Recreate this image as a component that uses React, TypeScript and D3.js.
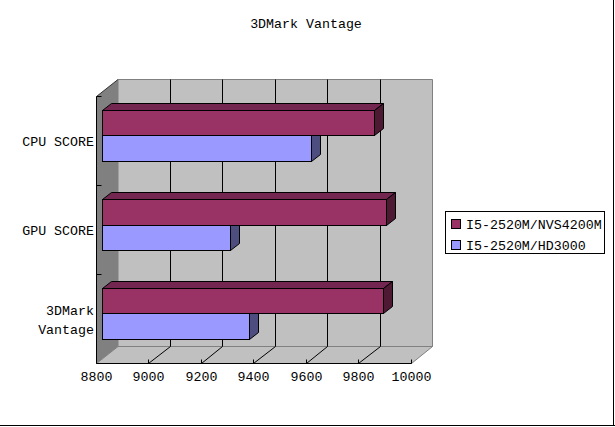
import React, { useEffect, useRef } from "react";
import * as d3 from "d3";

const categories = ["3DMark Vantage", "GPU SCORE", "CPU SCORE"];
const nvsValues = [9870, 9882, 9836];
const hdValues = [9360, 9288, 9596];
const xTicks = [8800, 9000, 9200, 9400, 9600, 9800, 10000];
const seriesNames = ["I5-2520M/NVS4200M", "I5-2520M/HD3000"];
const seriesColors = ["#993366", "#9999ff"];
const topColors = ["#732650", "#7373bf"];
const sideColors = ["#4d1933", "#4d4d80"];

const font = "'Liberation Mono', 'DejaVu Sans Mono', monospace";

// keep lines on whole pixels so they stay sharp
const snap = (v: number) => Math.ceil(v) - 0.5;

export default function App() {
	const svgRef = useRef<SVGSVGElement>(null);

	useEffect(() => {
		if (!svgRef.current) return;
		const svg = d3.select(svgRef.current);
		svg.selectAll("*").remove();

		const left = 96.5;
		const right = 411.5;
		const top = 96.5;
		const bottom = 363.5;
		// wall offset, and the offset of a bar in the depth of the box
		const wallX = 21.5;
		const wallY = -17;
		const barX = 6;
		const barY = -5;
		const depthX = 9;
		const depthY = -7;

		const x = d3.scaleLinear().domain([8800, 10000]).range([left, right]);
		const y = d3
			.scaleBand()
			.domain(categories)
			.range([bottom, top])
			.paddingInner(0.427)
			.paddingOuter(0.2135);
		const y1 = d3
			.scaleBand()
			.domain(seriesNames)
			.range([0, y.bandwidth()]);

		const poly = (pts: number[][], fill: string, stroke: string) =>
			svg
				.append("polygon")
				.attr("points", pts.map((p) => p.join(",")).join(" "))
				.attr("fill", fill)
				.attr("stroke", stroke);
		const seg = (
			xa: number,
			ya: number,
			xb: number,
			yb: number,
			stroke: string,
		) =>
			svg
				.append("line")
				.attr("x1", xa)
				.attr("y1", ya)
				.attr("x2", xb)
				.attr("y2", yb)
				.attr("stroke", stroke);

		const backLeft = snap(left + wallX) + 0.5;
		const backRight = snap(right + wallX);

		// outer chart frame
		seg(0, 425.5, 615, 425.5, "#000");
		seg(613.5, 0, 613.5, 426, "#000");

		// back wall, floor, left wall
		poly(
			[
				[backLeft, top + wallY],
				[backRight, top + wallY],
				[backRight, bottom + wallY],
				[backLeft, bottom + wallY],
			],
			"#c0c0c0",
			"#808080",
		);
		poly(
			[
				[left, bottom],
				[backLeft, bottom + wallY],
				[backRight, bottom + wallY],
				[right, bottom],
			],
			"#c0c0c0",
			"#808080",
		);
		poly(
			[
				[left, top],
				[backLeft, top + wallY],
				[backLeft, bottom + wallY],
				[left, bottom],
			],
			"#808080",
			"none",
		);
		seg(left, top, backLeft, top + wallY, "#333");

		// gridlines on the wall and floor
		xTicks.slice(1, -1).forEach((t) => {
			const gx = snap(x(t));
			const bx = snap(x(t) + wallX);
			seg(bx, top + wallY, bx, bottom + wallY, "#000");
			seg(gx, bottom, bx, bottom + wallY, "#000");
		});

		// category ticks on the left axis
		d3.range(categories.length).forEach((i) => {
			const ty = top + i * y.step();
			seg(left, ty, left + 5, ty, "#000");
		});

		// bars, top category first so the lower ones sit in front
		[...categories].reverse().forEach((c) => {
			const i = categories.indexOf(c);
			[hdValues[i], nvsValues[i]].forEach((v, k) => {
				const s = k === 0 ? 1 : 0;
				const x0 = snap(x(8800) + barX);
				const x1 = snap(x(v) + barX);
				const start = (y(c) as number) + (y1(seriesNames[s]) as number) + barY;
				const y0 = snap(start);
				const y2 = snap(start + y1.bandwidth());
				poly(
					[
						[x0, y0],
						[x0 + depthX, y0 + depthY],
						[x1 + depthX, y0 + depthY],
						[x1, y0],
					],
					topColors[s],
					"#000",
				);
				poly(
					[
						[x1, y0],
						[x1 + depthX, y0 + depthY],
						[x1 + depthX, y2 + depthY],
						[x1, y2],
					],
					sideColors[s],
					"#000",
				);
				svg
					.append("rect")
					.attr("x", x0)
					.attr("y", y0)
					.attr("width", x1 - x0)
					.attr("height", y2 - y0)
					.attr("fill", seriesColors[s])
					.attr("stroke", "#000");
			});
		});

		// axes
		const xAxis = d3
			.axisBottom(x)
			.tickValues(xTicks)
			.tickFormat(d3.format("d"))
			.tickSizeOuter(0)
			.tickSizeInner(-4)
			.tickPadding(8)
			.offset(0);
		const xG = svg
			.append("g")
			.attr("transform", `translate(0,${bottom})`)
			.call(xAxis);
		xG.select(".domain").attr("stroke", "#000");
		xG.selectAll<SVGGElement, number>(".tick").attr(
			"transform",
			(d) => `translate(${snap(x(d))},0)`,
		);
		xG.selectAll("text")
			.attr("font-family", font)
			.attr("font-size", 13.3)
			.attr("fill", "#000");
		seg(left, top, left, bottom, "#000");

		// category labels, long ones wrap on the space
		categories.forEach((c) => {
			const lines = c === "3DMark Vantage" ? ["3DMark", "Vantage"] : [c];
			const cy = (y(c) as number) + y.bandwidth() / 2;
			lines.forEach((l, j) => {
				svg
					.append("text")
					.attr("x", 94)
					.attr("y", cy + 5 + (j - (lines.length - 1) / 2) * 19)
					.attr("text-anchor", "end")
					.attr("font-family", font)
					.attr("font-size", 13.3)
					.text(l);
			});
		});

		// title
		svg
			.append("text")
			.attr("x", 306)
			.attr("y", 28)
			.attr("text-anchor", "middle")
			.attr("font-family", font)
			.attr("font-size", 13.3)
			.text("3DMark Vantage");

		// legend
		svg
			.append("rect")
			.attr("x", 445.5)
			.attr("y", 211.5)
			.attr("width", 159)
			.attr("height", 42)
			.attr("fill", "#fff")
			.attr("stroke", "#000");
		seriesNames.forEach((name, i) => {
			const ly = 219.5 + i * 21;
			svg
				.append("rect")
				.attr("x", 451.5)
				.attr("y", ly)
				.attr("width", 9)
				.attr("height", 9)
				.attr("fill", seriesColors[i])
				.attr("stroke", "#000");
			svg
				.append("text")
				.attr("x", 466)
				.attr("y", ly + 9)
				.attr("font-family", font)
				.attr("font-size", 13.3)
				.text(name);
		});
	}, []);

	return (
		<svg
			ref={svgRef}
			width={615}
			height={427}
			style={{ position: "absolute", left: 0, top: 0, background: "#fff" }}
		/>
	);
}
